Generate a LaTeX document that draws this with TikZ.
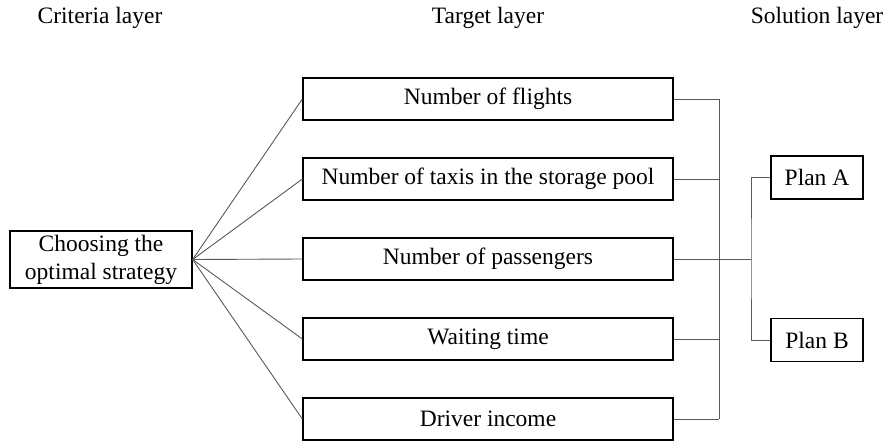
\documentclass[tikz,border=0pt]{standalone}
\usepackage{fontspec}
\setmainfont{LiberationSerif}[Extension=.ttf,UprightFont=*-Regular,BoldFont=*-Bold]
\begin{document}
\begin{tikzpicture}[x=1pt,y=-1pt,
  box/.style={draw=black,line width=1.3pt,inner sep=0pt,fill=white},
  conn/.style={draw=black!65,line width=0.9pt},
  hdr/.style={font=\fontsize{23.5}{26}\selectfont,inner sep=0pt},
  lbl/.style={font=\fontsize{23.5}{26}\selectfont}]
\useasboundingbox (0,0) rectangle (886,441);
\node[hdr] (h1) at (100,18) {Criteria layer};
\node[hdr] (h2) at (488,18) {Target layer};
\node[hdr] (h3) at (817,18) {Solution layer};
\node[box,minimum width=182pt,minimum height=57pt,align=center,font=\fontsize{23.5}{28}\selectfont] (c) at (101,259.5) {Choosing the\\optimal strategy};
\foreach \i/\y/\t in {1/99/Number of flights,2/179/Number of taxis in the storage pool,3/259/Number of passengers,4/339/Waiting time,5/419/Driver income}{
  \node[box,minimum width=370pt,minimum height=42pt,lbl] (t\i) at (488,\y) {\t};
}
\node[box,minimum width=92pt,minimum height=43pt,lbl] (pa) at (817,177.5) {Plan A};
\node[box,minimum width=92pt,minimum height=43pt,lbl] (pb) at (817,340) {Plan B};
\coordinate (bt) at (719,99);
\coordinate (bb) at (719,419);
\coordinate (j) at (751,259);
\foreach \i in {1,...,5}{
  \draw[conn] (c.east) -- (t\i.west);
  \draw[conn] (t\i.east) -- (t\i.east -| bt);
}
\draw[conn] (bt) -- (bb);
\draw[conn] (t3.east -| bt) -- (j);
\draw[conn] (pa.west) -| (j) |- (pb.west);
\end{tikzpicture}
\end{document}
